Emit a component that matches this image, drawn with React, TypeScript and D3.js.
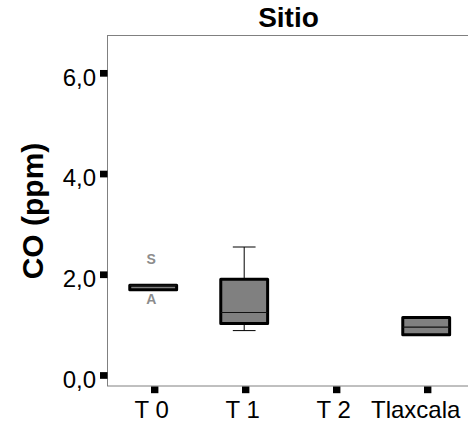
import React, { useEffect, useRef } from "react";
import * as d3 from "d3";

const categories = ["T 0", "T 1", "T 2", "Tlaxcala"];
// box statistics per category (null = no data)
const q1Values = [1.7, 1.03, null, 0.81];
const medianValues = [1.79, 1.25, null, 0.96];
const q3Values = [1.79, 1.91, null, 1.15];
const whiskerLow = [1.7, 0.89, null, 0.81];
const whiskerHigh = [1.79, 2.55, null, 1.15];
const pointLabels = ["S", "A"];
const pointLabelCats = ["T 0", "T 0"];
const pointLabelValues = [2.31, 1.51];
const yTicks = [0, 2, 4, 6];
const title = "Sitio";
const yTitle = "CO (ppm)";

const W = 468;
const H = 421;
const FONT = "'Liberation Sans', Arial, Helvetica, sans-serif";

export default function App() {
  const ref = useRef<SVGSVGElement | null>(null);

  useEffect(() => {
    const svg = d3.select(ref.current);
    svg.selectAll("*").remove();

    const plotLeft = 107.5;
    const plotTop = 35.5;
    const plotBottom = 386;
    const x = d3.scaleBand<string>().domain(categories).range([109.2, 473.2]).padding(0);
    const y = d3.scaleLinear().domain([-0.21, 6.76]).range([plotBottom, 35]);

    svg.append("rect").attr("width", W).attr("height", H).attr("fill", "#ffffff");

    // frame
    svg
      .append("rect")
      .attr("x", plotLeft)
      .attr("y", plotTop)
      .attr("width", 500)
      .attr("height", plotBottom - plotTop)
      .attr("fill", "none")
      .attr("stroke", "#808080")
      .attr("stroke-width", 1);

    // title
    svg
      .append("text")
      .attr("x", 288.5)
      .attr("y", 27.3)
      .attr("text-anchor", "middle")
      .attr("font-family", FONT)
      .attr("font-weight", "bold")
      .attr("font-size", 28)
      .attr("fill", "#000")
      .text(title);

    // y title
    svg
      .append("text")
      .attr("transform", `translate(42.7,211) rotate(-90)`)
      .attr("text-anchor", "middle")
      .attr("font-family", FONT)
      .attr("font-weight", "bold")
      .attr("font-size", 30)
      .attr("fill", "#000")
      .text(yTitle);

    // y ticks
    const yt = svg.append("g");
    yTicks.forEach((t) => {
      yt.append("rect")
        .attr("x", 100)
        .attr("y", y(t) - 3.3)
        .attr("width", 7.5)
        .attr("height", 6.7)
        .attr("fill", "#000");
      yt.append("text")
        .attr("x", 96)
        .attr("y", y(t) + 12.5)
        .attr("text-anchor", "end")
        .attr("font-family", FONT)
        .attr("font-size", 24)
        .attr("fill", "#000")
        .text(d3.format(".1f")(t).replace(".", ","));
    });

    // x ticks
    const xt = svg.append("g");
    categories.forEach((c) => {
      const cx = (x(c) as number) + x.bandwidth() / 2;
      xt.append("rect")
        .attr("x", cx - 3.7)
        .attr("y", plotBottom + 0.5)
        .attr("width", 7.4)
        .attr("height", 6.7)
        .attr("fill", "#000");
      const t = xt
        .append("text")
        .attr("x", cx - 3)
        .attr("y", 417.5)
        .attr("text-anchor", "middle")
        .attr("font-family", FONT)
        .attr("font-size", 24)
        .attr("fill", "#000")
        .text(c);
      const node = t.node() as SVGTextElement;
      const bb = node.getBBox();
      const maxRight = W - 7;
      if (bb.x + bb.width > maxRight) {
        t.attr("x", cx - 3 - (bb.x + bb.width - maxRight));
      }
    });

    // boxes
    const boxW = x.bandwidth() * 0.515;
    const capW = x.bandwidth() * 0.25;
    const bg = svg.append("g");
    categories.forEach((c, i) => {
      const q1 = q1Values[i];
      const q3 = q3Values[i];
      const med = medianValues[i];
      if (q1 == null || q3 == null || med == null) return;
      const cx = (x(c) as number) + x.bandwidth() / 2 - 1.5;
      const lo = whiskerLow[i] as number;
      const hi = whiskerHigh[i] as number;
      if (hi > q3) {
        bg.append("line")
          .attr("x1", cx).attr("x2", cx)
          .attr("y1", y(hi)).attr("y2", y(q3))
          .attr("stroke", "#000").attr("stroke-width", 1);
        bg.append("line")
          .attr("x1", cx - capW / 2).attr("x2", cx + capW / 2)
          .attr("y1", y(hi)).attr("y2", y(hi))
          .attr("stroke", "#000").attr("stroke-width", 1);
      }
      if (lo < q1) {
        bg.append("line")
          .attr("x1", cx).attr("x2", cx)
          .attr("y1", y(q1)).attr("y2", y(lo))
          .attr("stroke", "#000").attr("stroke-width", 1);
        bg.append("line")
          .attr("x1", cx - capW / 2).attr("x2", cx + capW / 2)
          .attr("y1", y(lo)).attr("y2", y(lo))
          .attr("stroke", "#000").attr("stroke-width", 1);
      }
      bg.append("rect")
        .attr("x", cx - boxW / 2)
        .attr("y", y(q3))
        .attr("width", boxW)
        .attr("height", y(q1) - y(q3))
        .attr("fill", "#808080")
        .attr("stroke", "#000")
        .attr("stroke-width", 3)
        .attr("stroke-linejoin", "round");
      bg.append("line")
        .attr("x1", cx - boxW / 2).attr("x2", cx + boxW / 2)
        .attr("y1", y(med)).attr("y2", y(med))
        .attr("stroke", "#111").attr("stroke-width", 1.2);
    });

    // point labels
    pointLabels.forEach((l, i) => {
      const c = pointLabelCats[i];
      const cx = (x(c) as number) + x.bandwidth() / 2 - 3.5;
      svg
        .append("text")
        .attr("x", cx)
        .attr("y", y(pointLabelValues[i]) + 5)
        .attr("text-anchor", "middle")
        .attr("font-family", FONT)
        .attr("font-weight", "bold")
        .attr("font-size", 14)
        .attr("fill", "#8c8c8c")
        .text(l);
    });
  }, []);

  return (
    <svg
      ref={ref}
      width={W}
      height={H}
      style={{ position: "fixed", left: 0, top: 0, display: "block" }}
    />
  );
}
